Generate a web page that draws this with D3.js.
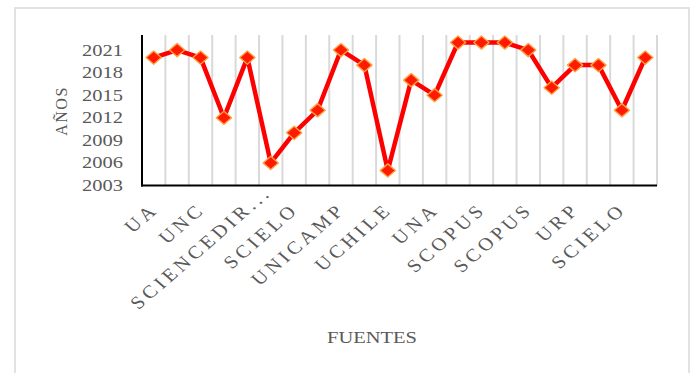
<!DOCTYPE html>
<html>
<head>
<meta charset="utf-8">
<script src="https://cdn.jsdelivr.net/npm/d3@7"></script>
<style>
  html, body { margin: 0; padding: 0; background: #ffffff; }
  svg { display: block; }
</style>
</head>
<body>
<div id="chart"></div>
<script>
// ---- data ----
const categories = ["1","2","3","4","5","6","7","8","9","10","11","12","13","14","15","16","17","18","19","20","21","22"];
const years = [2020, 2021, 2020, 2012, 2020, 2006, 2010, 2013, 2021, 2019, 2005, 2017, 2015, 2022, 2022, 2022, 2021, 2016, 2019, 2019, 2013, 2020];
const tickLabels = ["UA", "", "UNC", "", "SCIENCEDIR...", "", "SCIELO", "", "UNICAMP", "", "UCHILE", "", "UNA", "", "SCOPUS", "", "SCOPUS", "", "URP", "", "SCIELO", ""];
const yTicks = [2003, 2006, 2009, 2012, 2015, 2018, 2021];
const yDomain = [2003, 2023];
const yTitle = "AÑOS";
const xTitle = "FUENTES";

// ---- layout ----
const W = 693, H = 373;
const pLeft = 142, pRight = 657, pTop = 35, pBottom = 185.5;
const SX = 1.28;      // horizontal text stretch seen in the reference
const font = "'Liberation Serif', 'Times New Roman', serif";
const textColor = "#595959";

const svg = d3.select("#chart").append("svg").attr("width", W).attr("height", H);

// outer border
svg.append("rect")
  .attr("x", 15).attr("y", 8).attr("width", 674).attr("height", 400)
  .attr("fill", "none").attr("stroke", "#d9d9d9").attr("stroke-width", 1.5);

const x = d3.scaleBand().domain(categories).range([pLeft, pRight]).paddingInner(0).paddingOuter(0);
const y = d3.scaleLinear().domain(yDomain).range([pBottom, pTop]);

// vertical gridlines at category boundaries
const bounds = categories.map(c => x(c) + x.bandwidth());
svg.append("g").selectAll("line").data(bounds).join("line")
  .attr("x1", d => d).attr("x2", d => d)
  .attr("y1", pTop).attr("y2", pBottom)
  .attr("stroke", "#d9d9d9").attr("stroke-width", 2);

// axes lines
svg.append("line").attr("x1", pLeft).attr("x2", pLeft).attr("y1", pTop).attr("y2", pBottom + 1)
  .attr("stroke", "#000").attr("stroke-width", 2);
svg.append("line").attr("x1", pLeft - 1).attr("x2", pRight).attr("y1", pBottom).attr("y2", pBottom)
  .attr("stroke", "#000").attr("stroke-width", 2.2);

// y tick labels
svg.append("g").selectAll("text").data(yTicks).join("text")
  .attr("transform", d => `translate(123,${y(d) + 5.5}) scale(${SX},1)`)
  .attr("text-anchor", "end")
  .attr("font-family", font).attr("font-size", 16)
  .attr("fill", textColor)
  .text(d => d);

// x tick labels (every other category)
const ls = 3.5;
const lab = svg.append("g").selectAll("text")
  .data(categories.map((c, i) => ({c, t: tickLabels[i]})).filter(d => d.t))
  .join("text")
  .attr("transform", d => `translate(${x(d.c) + x.bandwidth() / 2 + 3},213) scale(1.15,1) rotate(-45)`)
  .attr("text-anchor", "end")
  .attr("letter-spacing", ls)
  .attr("font-family", font).attr("font-size", 18)
  .attr("fill", textColor);
lab.each(function(d) {
  const el = d3.select(this);
  const trunc = d.t.endsWith("...");
  const main = trunc ? d.t.slice(0, -3) : d.t;
  el.append("tspan").text(main);
  if (trunc) {
    const tail = el.append("tspan").text("...");
    // ellipsis overhangs past the tick, as in the reference
    const w = tail.node().getComputedTextLength();
    el.attr("dx", ls + w);
  } else {
    el.attr("dx", ls);
  }
});

// axis titles
svg.append("text")
  .attr("transform", `translate(66.5,111) rotate(-90)`)
  .attr("text-anchor", "middle")
  .attr("letter-spacing", 1.5)
  .attr("font-family", font).attr("font-size", 16)
  .attr("fill", textColor)
  .text(yTitle);

svg.append("text")
  .attr("transform", `translate(372,342.5) scale(${SX},1)`)
  .attr("text-anchor", "middle")
  .attr("font-family", font).attr("font-size", 16)
  .attr("fill", textColor)
  .text(xTitle);

// line
const pts = categories.map((c, i) => ({c, v: years[i]}));
svg.append("path").datum(pts)
  .attr("fill", "none").attr("stroke", "#ff0000").attr("stroke-width", 4.5)
  .attr("stroke-linejoin", "round")
  .attr("d", d3.line().x(d => x(d.c) + x.bandwidth() / 2).y(d => y(d.v)));

// diamond markers
svg.append("g").selectAll("path").data(pts).join("path")
  .attr("transform", d => `translate(${x(d.c) + x.bandwidth() / 2},${y(d.v)})`)
  .attr("d", "M0,-6.6L7.6,0L0,6.6L-7.6,0Z")
  .attr("fill", "#ff1a00").attr("stroke", "#ffa040").attr("stroke-width", 1.4)
  .attr("stroke-linejoin", "round");
</script>
</body>
</html>
